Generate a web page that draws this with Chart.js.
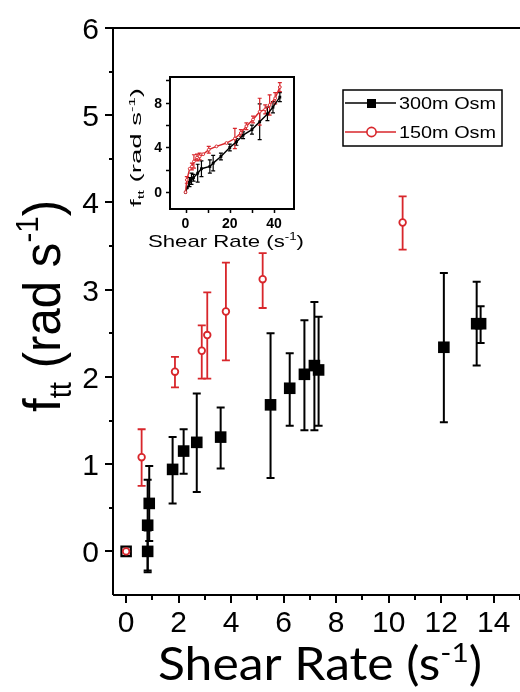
<!DOCTYPE html>
<html>
<head>
<meta charset="utf-8">
<script src="https://cdn.jsdelivr.net/npm/chart.js@4.4.1/dist/chart.umd.min.js"></script>
<style>
    html, body { margin: 0; padding: 0; background: #fff; }
    #wrap { position: relative; width: 520px; height: 692px; overflow: hidden; }
    #mainChart { position: absolute; left: 0; top: 0; }
    #insetChart { position: absolute; left: 120px; top: 60px; }
</style>
</head>
<body>
<div id="wrap">
    <canvas id="mainChart" width="520" height="692"></canvas>
    <canvas id="insetChart" width="200" height="200"></canvas>
</div>
<script>
// --- datos ---
const shear300 = [0, 0.82, 0.82, 0.88, 1.77, 2.19, 2.69, 3.60, 5.50, 6.23, 6.79, 7.17, 7.33, 12.1, 13.35, 13.5];
const ftt300   = [0, 0, 0.30, 0.55, 0.94, 1.15, 1.25, 1.31, 1.68, 1.87, 2.03, 2.13, 2.08, 2.34, 2.61, 2.61];
const low300   = [null, -0.24, -0.22, 0.12, 0.55, 0.89, 0.68, 0.95, 0.84, 1.44, 1.39, 1.39, 1.44, 1.48, 2.13, 2.39];
const high300  = [null, 0.24, 0.82, 0.98, 1.31, 1.40, 1.81, 1.65, 2.50, 2.27, 2.65, 2.86, 2.69, 3.19, 3.09, 2.81];

const shear150 = [0, 0.59, 1.86, 2.88, 3.09, 3.80, 5.20, 10.53];
const ftt150   = [0, 1.08, 2.06, 2.30, 2.48, 2.75, 3.12, 3.77];
const low150   = [null, 0.75, 1.88, 1.98, 1.98, 2.19, 2.79, 3.46];
const high150  = [null, 1.40, 2.23, 2.59, 2.97, 3.31, 3.42, 4.07];

const xTicks = [0, 2, 4, 6, 8, 10, 12, 14];
const yTicks = [0, 1, 2, 3, 4, 5, 6];

// inset (rango completo)
const insetShear300 = [0, 0.8, 1.8, 2.7, 3.6, 5.5, 7.2, 11, 12.5, 16, 20, 23, 26, 30, 33.5, 37, 39.5, 42.6];
const insetFtt300   = [0, 0.4, 0.9, 1.2, 1.3, 1.7, 2.1, 2.3, 2.6, 3.2, 4.0, 4.5, 5.1, 5.6, 6.3, 7.0, 7.6, 8.5];
const insetErr300   = [0, 0.2, 0.4, 0.5, 0.3, 0.8, 0.7, 0.6, 0.7, 0.3, 0.3, 0.3, 0.3, 0.4, 1.6, 0.6, 0.5, 0.4];
const insetShear150 = [0, 0.6, 1.9, 2.9, 3.8, 5.2, 6.4, 8, 10.5, 14, 18.5, 22.3, 25, 27.5, 30.5, 33.5, 36, 38, 40.5, 42.6];
const insetFtt150   = [0, 1.1, 2.1, 2.3, 2.75, 3.1, 3.2, 3.4, 3.8, 4.1, 4.4, 4.8, 5.3, 5.9, 6.5, 7.2, 7.4, 7.8, 8.4, 9.4];
const insetErr150   = [0, 0.3, 0.2, 0.3, 0.6, 0.3, 0.3, 0.2, 0.3, 0.2, 0.2, 0.9, 0.3, 0.3, 0.3, 1.2, 0.4, 0.9, 0.5, 0.4];
const insetXTicks = [0, 20, 40];
const insetYTicks = [0, 4, 8];

const RED = '#d8262b';
const SANS = '"Liberation Sans", Arial, sans-serif';

const toPoints = (xs, ys) => xs.map((x, i) => ({ x: x, y: ys[i] }));

// texto con sub/superindices, ajustado a un ancho
function drawRich(ctx, parts, family, size, x, y, width, weight) {
    let total = 0;
    const ws = parts.map(p => {
        ctx.font = `${weight || 'normal'} ${size * (p.s || 1)}px ${family}`;
        const w = ctx.measureText(p.t).width;
        total += w;
        return w;
    });
    const k = width ? width / total : 1;
    ctx.save();
    ctx.translate(x, y);
    ctx.scale(k, 1);
    ctx.textAlign = 'left';
    ctx.textBaseline = 'alphabetic';
    let cx = 0;
    parts.forEach((p, i) => {
        ctx.font = `${weight || 'normal'} ${size * (p.s || 1)}px ${family}`;
        ctx.fillText(p.t, cx, (p.dy || 0) * size);
        cx += ws[i];
    });
    ctx.restore();
}

function drawErrorBars(chart, idx, lows, highs, color, lw, cap) {
    const ctx = chart.ctx, xs = chart.scales.x, ys = chart.scales.y;
    const data = chart.data.datasets[idx].data;
    ctx.save();
    ctx.strokeStyle = color;
    ctx.lineWidth = lw;
    data.forEach((d, i) => {
        if (lows[i] === null) return;
        const px = xs.getPixelForValue(d.x);
        const y1 = ys.getPixelForValue(lows[i]);
        const y2 = ys.getPixelForValue(highs[i]);
        ctx.beginPath();
        ctx.moveTo(px, y1); ctx.lineTo(px, y2);
        ctx.moveTo(px - cap, y1); ctx.lineTo(px + cap, y1);
        ctx.moveTo(px - cap, y2); ctx.lineTo(px + cap, y2);
        ctx.stroke();
    });
    ctx.restore();
}

const mainDecor = {
    id: 'mainDecor',
    beforeDatasetsDraw(chart) {
        drawErrorBars(chart, 1, low300, high300, '#000', 2, 4);
        drawErrorBars(chart, 0, low150, high150, RED, 1.8, 4);
    },
    afterDraw(chart) {
        const ctx = chart.ctx, a = chart.chartArea, xs = chart.scales.x, ys = chart.scales.y;
        ctx.save();
        ctx.strokeStyle = '#000';
        ctx.fillStyle = '#000';
        ctx.lineWidth = 2;
        // ejes y borde superior
        ctx.beginPath();
        ctx.moveTo(a.left, a.bottom); ctx.lineTo(a.right, a.bottom);
        ctx.moveTo(a.left, a.bottom); ctx.lineTo(a.left, a.top);
        ctx.moveTo(a.left - 8, a.top); ctx.lineTo(a.right, a.top);
        ctx.stroke();
        // marcas
        ctx.beginPath();
        for (let v = 0; v <= 6; v += 0.5) {
            const py = Math.round(ys.getPixelForValue(v));
            ctx.moveTo(a.left, py); ctx.lineTo(a.left - (v % 1 === 0 ? 8 : 4), py);
        }
        for (let v = 0; v <= 15; v += 1) {
            const px = Math.round(xs.getPixelForValue(v));
            ctx.moveTo(px, a.bottom); ctx.lineTo(px, a.bottom + (v % 2 === 0 ? 8 : 5));
        }
        ctx.stroke();
        ctx.font = `30px ${SANS}`;
        ctx.textAlign = 'center';
        ctx.textBaseline = 'alphabetic';
        xTicks.forEach(v => ctx.fillText(String(v), xs.getPixelForValue(v), 632));
        ctx.textAlign = 'right';
        yTicks.forEach(v => ctx.fillText(String(v), 99, ys.getPixelForValue(v) + 11));

        // titulos
        drawRich(ctx, [{ t: 'Shear Rate (s' }, { t: '-1', s: 0.6, dy: -0.4 }, { t: ')' }],
            'Lato, "Open Sans", sans-serif', 46, 158, 680, 324);
        ctx.save();
        ctx.translate(60, 412);
        ctx.rotate(-Math.PI / 2);
        drawRich(ctx, [{ t: 'f' }, { t: 'tt', s: 0.6, dy: 0.22 }, { t: ' (rad s' }, { t: '-1', s: 0.6, dy: -0.42 }, { t: ')' }],
            SANS, 52, 0, 0, 212);
        ctx.restore();

        // leyenda
        ctx.lineWidth = 1.5;
        ctx.strokeRect(343, 90, 159, 56);
        ctx.beginPath();
        ctx.moveTo(345, 103); ctx.lineTo(396, 103);
        ctx.stroke();
        ctx.fillRect(367, 99, 9, 9);
        ctx.strokeStyle = RED;
        ctx.beginPath();
        ctx.moveTo(345, 132); ctx.lineTo(396, 132);
        ctx.stroke();
        ctx.fillStyle = '#fff';
        ctx.lineWidth = 1.6;
        ctx.beginPath();
        ctx.arc(371.5, 132, 4.6, 0, Math.PI * 2);
        ctx.fill(); ctx.stroke();
        ctx.fillStyle = '#000';
        drawRich(ctx, [{ t: '300m Osm' }], SANS, 16, 399, 109, 97);
        drawRich(ctx, [{ t: '150m Osm' }], SANS, 16, 399, 138, 97);
        ctx.restore();
    }
};

const insetDecor = {
    id: 'insetDecor',
    beforeDatasetsDraw(chart) {
        const ctx = chart.ctx, xs = chart.scales.x, ys = chart.scales.y;
        const bars = (xsArr, ysArr, errs, color) => {
            ctx.save();
            ctx.strokeStyle = color;
            ctx.lineWidth = 1.2;
            ctx.beginPath();
            xsArr.forEach((xv, i) => {
                if (errs[i] < 0.25) return;
                const px = xs.getPixelForValue(xv);
                const y1 = ys.getPixelForValue(ysArr[i] - errs[i]);
                const y2 = ys.getPixelForValue(ysArr[i] + errs[i]);
                ctx.moveTo(px, y1); ctx.lineTo(px, y2);
                ctx.moveTo(px - 2, y1); ctx.lineTo(px + 2, y1);
                ctx.moveTo(px - 2, y2); ctx.lineTo(px + 2, y2);
            });
            ctx.stroke();
            ctx.restore();
        };
        bars(insetShear300, insetFtt300, insetErr300, '#000');
        bars(insetShear150, insetFtt150, insetErr150, RED);
    },
    afterDraw(chart) {
        const ctx = chart.ctx, a = chart.chartArea, xs = chart.scales.x, ys = chart.scales.y;
        ctx.save();
        ctx.strokeStyle = '#000';
        ctx.fillStyle = '#000';
        ctx.lineWidth = 2;
        ctx.strokeRect(a.left, a.top, a.right - a.left, a.bottom - a.top);
        ctx.lineWidth = 1.5;
        ctx.beginPath();
        for (let v = 0; v <= 10; v += 2) {
            const py = Math.round(ys.getPixelForValue(v)) + 0.5;
            ctx.moveTo(a.left, py); ctx.lineTo(a.left - 4, py);
        }
        for (let v = 0; v <= 40; v += 10) {
            const px = Math.round(xs.getPixelForValue(v)) + 0.5;
            ctx.moveTo(px, a.bottom); ctx.lineTo(px, a.bottom + 4);
        }
        ctx.stroke();
        ctx.font = `bold 14px ${SANS}`;
        ctx.textAlign = 'center';
        insetXTicks.forEach(v => ctx.fillText(String(v), xs.getPixelForValue(v), 168));
        ctx.textAlign = 'right';
        insetYTicks.forEach(v => ctx.fillText(String(v), 42, ys.getPixelForValue(v) + 5));
        drawRich(ctx, [{ t: 'Shear Rate (s' }, { t: '-1', s: 0.6, dy: -0.42 }, { t: ')' }],
            SANS, 17, 28, 187, 156);
        ctx.save();
        ctx.translate(21, 147);
        ctx.rotate(-Math.PI / 2);
        drawRich(ctx, [{ t: 'f' }, { t: 'tt', s: 0.6, dy: 0.22 }, { t: ' (rad s' }, { t: '-1', s: 0.6, dy: -0.42 }, { t: ')' }],
            SANS, 15, 0, 0, 119);
        ctx.restore();
        ctx.restore();
    }
};

function renderMain() {
    const ctx = document.getElementById('mainChart').getContext('2d');
    const n = shear300.length;
    new Chart(ctx, {
        type: 'scatter',
        data: {
            datasets: [
                {
                    label: '150m Osm',
                    data: toPoints(shear150, ftt150),
                    pointStyle: 'circle',
                    pointRadius: 3.3,
                    pointBorderWidth: 1.8,
                    pointBorderColor: RED,
                    pointBackgroundColor: '#fff',
                    order: 0
                },
                {
                    label: '300m Osm',
                    data: toPoints(shear300, ftt300),
                    pointStyle: 'rect',
                    pointRadius: Array.from({ length: n }, (_, i) => i === 0 ? 6.6 : 8.2),
                    pointBorderWidth: Array.from({ length: n }, (_, i) => i === 0 ? 2.2 : 0),
                    pointBorderColor: '#000',
                    pointBackgroundColor: Array.from({ length: n }, (_, i) => i === 0 ? '#fff' : '#000'),
                    order: 1
                }
            ]
        },
        options: {
            responsive: false,
            animation: false,
            events: [],
            layout: { autoPadding: false, padding: { left: 113, right: 0, top: 28, bottom: 97 } },
            scales: {
                x: { type: 'linear', min: -0.5, max: 15, display: false },
                y: { type: 'linear', min: -0.5, max: 6, display: false }
            },
            plugins: { legend: { display: false }, tooltip: { enabled: false } }
        },
        plugins: [mainDecor]
    });
}

function renderInset() {
    const ctx = document.getElementById('insetChart').getContext('2d');
    new Chart(ctx, {
        type: 'scatter',
        data: {
            datasets: [
                {
                    data: toPoints(insetShear150, insetFtt150),
                    showLine: true,
                    borderColor: RED,
                    borderWidth: 1.4,
                    pointStyle: 'circle',
                    pointRadius: 1.4,
                    pointBorderWidth: 1,
                    pointBorderColor: RED,
                    pointBackgroundColor: '#fff',
                    order: 0
                },
                {
                    data: toPoints(insetShear300, insetFtt300),
                    showLine: true,
                    borderColor: '#000',
                    borderWidth: 1.4,
                    pointStyle: 'rect',
                    pointRadius: 2,
                    pointBorderWidth: 0,
                    pointBackgroundColor: '#000',
                    order: 1
                }
            ]
        },
        options: {
            responsive: false,
            animation: false,
            events: [],
            layout: { autoPadding: false, padding: { left: 50, right: 26, top: 17, bottom: 51 } },
            scales: {
                x: { type: 'linear', min: -7, max: 49, display: false },
                y: { type: 'linear', min: -1.5, max: 10.3, display: false }
            },
            plugins: { legend: { display: false }, tooltip: { enabled: false } }
        },
        plugins: [insetDecor]
    });
}

renderMain();
renderInset();
</script>
</body>
</html>
